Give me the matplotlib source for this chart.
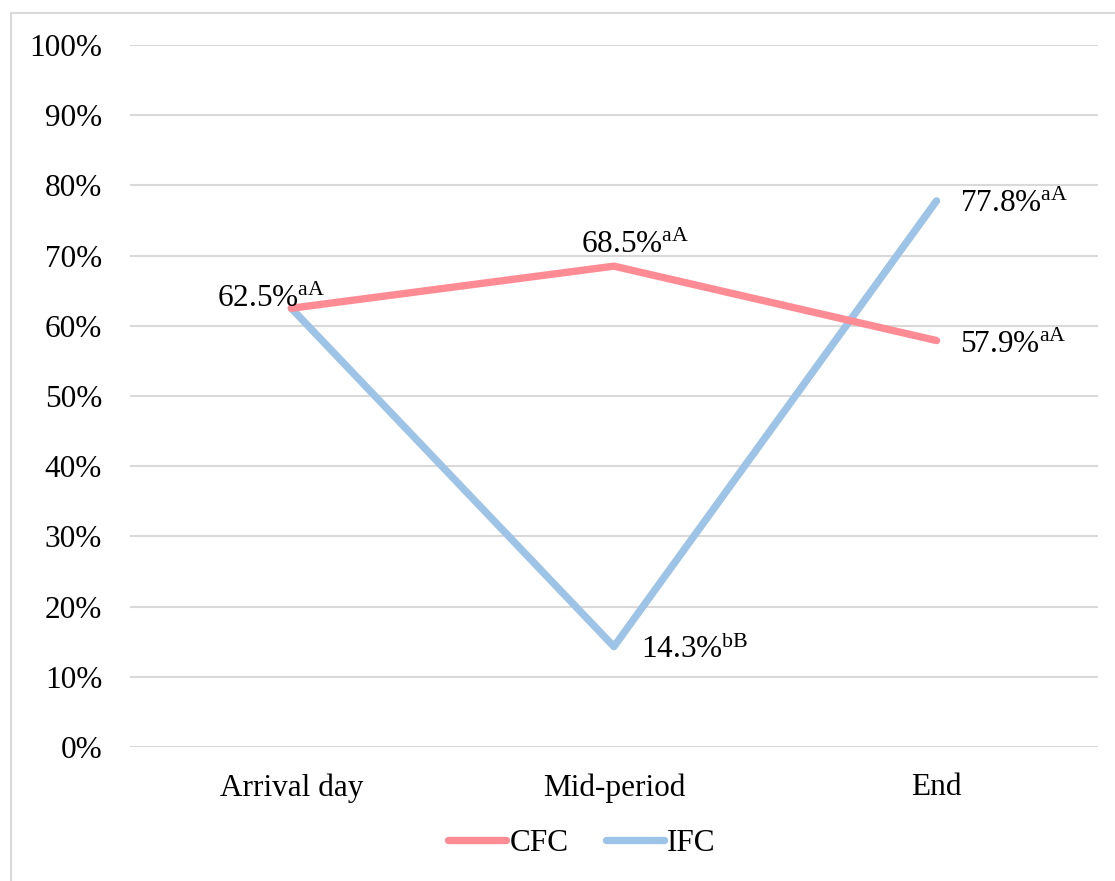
import matplotlib.pyplot as plt
from matplotlib.lines import Line2D

# data
stages = ["Arrival day", "Mid-period", "End"]
cfc = [62.5, 68.5, 57.9]
ifc = [62.5, 14.3, 77.8]
cfc_sup = ["aA", "aA", "aA"]
ifc_sup = ["aA", "bB", "aA"]
yticks = list(range(0, 101, 10))

plt.rcParams['font.family'] = ['Liberation Serif', 'DejaVu Serif']
plt.rcParams['mathtext.fontset'] = 'custom'
plt.rcParams['mathtext.rm'] = 'Liberation Serif'
plt.rcParams['mathtext.it'] = 'Liberation Serif'

PINK = '#FF8C94'
BLUE = '#9DC3E6'
GRID = '#D9D9D9'
FS = 22.5

fig = plt.figure(figsize=(11.15, 8.81), dpi=100)
ax = fig.add_axes([0.1166, 0.1521, 0.868, 0.7968])

x = list(range(len(stages)))
ax.plot(x, ifc, color=BLUE, lw=5.3, solid_capstyle='round', label='IFC', zorder=3)
ax.plot(x, cfc, color=PINK, lw=5.3, solid_capstyle='round', label='CFC', zorder=4)

ax.set_xlim(-0.5, 2.5)
ax.set_ylim(0, 100)
ax.set_yticks(yticks)
ax.set_yticklabels([f"{v}%" for v in yticks])
ax.set_xticks(x)
ax.set_xticklabels(stages)
ax.tick_params(axis='both', length=0, labelsize=FS, colors='black')
ax.tick_params(axis='y', pad=20)
ax.tick_params(axis='x', pad=19)
ax.grid(axis='y', color=GRID, lw=1.5)
ax.set_axisbelow(True)
for s in ax.spines.values():
    s.set_visible(False)


def lab(v, sup):
    return f"{v}%" + r"$^{\mathrm{" + sup + "}}$"


# data labels: (x index, value, superscript, pixel offset)
labels = [
    (0, cfc[0], cfc_sup[0], (-74, 1)),
    (1, cfc[1], cfc_sup[1], (-33, 13)),
    (2, cfc[2], cfc_sup[2], (23, -12)),
    (1, ifc[1], ifc_sup[1], (27, -11)),
    (2, ifc[2], ifc_sup[2], (23, -11)),
]
for xi, v, sup, off in labels:
    ax.annotate(lab(v, sup), (xi, v), xytext=off, textcoords='offset pixels',
                ha='left', va='baseline', fontsize=FS, zorder=5)

h, l = ax.get_legend_handles_labels()
fig.legend(h[::-1], l[::-1], loc='center', bbox_to_anchor=(0.522, 0.043), ncol=2, frameon=False,
           fontsize=FS, handlelength=1.85, handletextpad=0.1, columnspacing=1.2)

# chart-area border (only left and top edges visible)
fig.add_artist(Line2D([11 / 1115, 11 / 1115], [0, 1 - 13 / 881], transform=fig.transFigure,
                      color=GRID, lw=1.5))
fig.add_artist(Line2D([11 / 1115, 1], [1 - 13 / 881, 1 - 13 / 881], transform=fig.transFigure,
                      color=GRID, lw=1.5))

fig.savefig('out.png', dpi=100)
